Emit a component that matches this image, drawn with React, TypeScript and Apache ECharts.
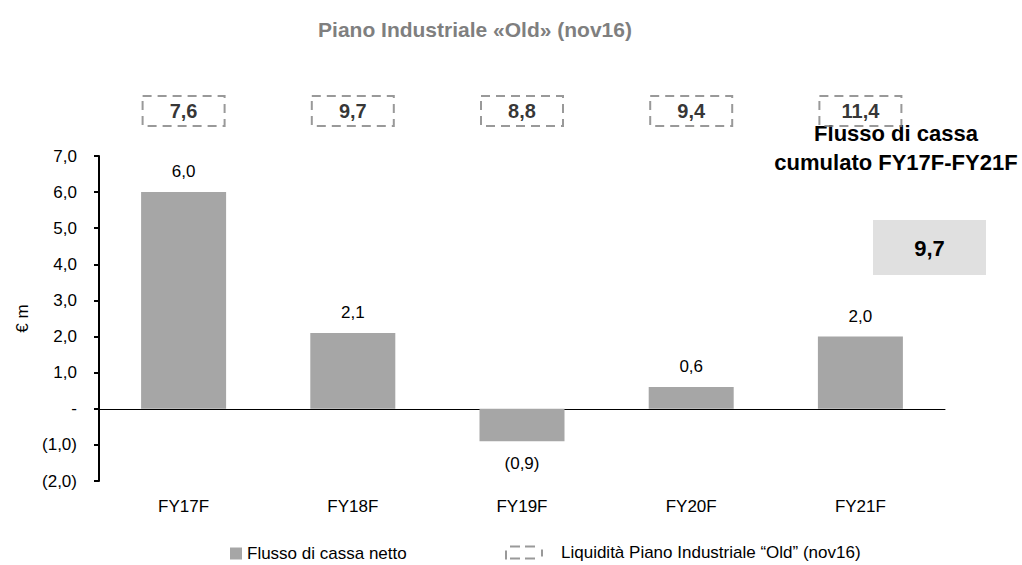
import React, { useEffect, useRef } from "react";
import * as echarts from "echarts";

const categories = ["FY17F", "FY18F", "FY19F", "FY20F", "FY21F"];
const cashFlow = [6.0, 2.1, -0.9, 0.6, 2.0];
const liquidity = [7.6, 9.7, 8.8, 9.4, 11.4];
const cumulative = 9.7;
const yTicksMin = -2;
const yTicksMax = 7;
const title = "Piano Industriale «Old» (nov16)";
const barName = "Flusso di cassa netto";
const liqName = "Liquidità Piano Industriale “Old” (nov16)";
const noteLines = ["Flusso di cassa", "cumulato FY17F-FY21F"];

const SANS = '"Liberation Sans", Arial, sans-serif';

const fmt = (v: number) => {
  if (Math.abs(v) < 1e-9) return "-";
  const s = Math.abs(v).toFixed(1).replace(".", ",");
  return v < 0 ? `(${s})` : s;
};

const dashIcon =
  "path://M0,5h2v9h-2z M5,0h10v2h-10z M20,0h10v2h-10z M5,12h10v2h-10z M20,12h10v2h-10z M36,4h2v7h-2z";

export default function App() {
  const ref = useRef<HTMLDivElement>(null);
  useEffect(() => {
    if (!ref.current) return;
    const chart = echarts.init(ref.current, undefined, { renderer: "svg" });
    chart.setOption({
      animation: false,
      backgroundColor: "#ffffff",
      textStyle: { fontFamily: SANS },
      title: {
        text: title,
        left: 470,
        top: 14,
        textAlign: "center",
        textStyle: { fontFamily: SANS, fontSize: 21, fontWeight: "bold", color: "#7f7f7f" },
      },
      grid: [
        { left: 99, right: 77, top: 156, height: 325 },
        { left: 99, right: 77, top: 95, height: 32 },
      ],
      xAxis: [
        {
          type: "category",
          gridIndex: 0,
          data: categories,
          axisLine: { show: true, onZero: true, lineStyle: { color: "#000", width: 1 } },
          axisTick: { show: false },
          axisLabel: { show: false },
        },
        {
          type: "category",
          gridIndex: 0,
          position: "bottom",
          data: categories,
          axisLine: { show: false, onZero: false },
          axisTick: { show: false },
          axisLabel: { color: "#000", fontSize: 17, fontFamily: SANS, margin: 17 },
        },
        {
          type: "category",
          gridIndex: 1,
          data: categories,
          show: false,
        },
      ],
      yAxis: [
        {
          type: "value",
          gridIndex: 0,
          min: yTicksMin,
          max: yTicksMax,
          interval: 1,
          name: "€ m",
          nameLocation: "middle",
          nameGap: 67,
          nameRotate: 90,
          nameTextStyle: { color: "#000", fontSize: 17, fontFamily: SANS },
          splitLine: { show: false },
          axisLine: { show: true, lineStyle: { color: "#000", width: 2 } },
          axisTick: { show: true, length: 5, lineStyle: { color: "#000", width: 2 } },
          axisLabel: { color: "#000", fontSize: 17, fontFamily: SANS, margin: 22, formatter: (v: number) => fmt(v) },
        },
        { type: "value", gridIndex: 1, min: -1, max: 1, show: false },
      ],
      legend: [
        {
          data: [{ name: barName, icon: "rect" }],
          left: 225,
          top: 540,
          itemWidth: 12,
          itemHeight: 12,
          itemGap: 5,
          textStyle: { color: "#000", fontSize: 17, fontFamily: SANS },
        },
        {
          data: [{ name: liqName, icon: dashIcon, itemStyle: { color: "#808080" } }],
          left: 500,
          top: 539,
          itemWidth: 40,
          itemHeight: 14,
          textStyle: { color: "#000", fontSize: 17, fontFamily: SANS, padding: [0, 0, 0, 12] },
        },
      ],
      series: [
        {
          name: barName,
          type: "bar",
          xAxisIndex: 0,
          yAxisIndex: 0,
          data: cashFlow.map((v) => (v < 0 ? { value: v, label: { position: "bottom", distance: 14 } } : v)),
          barWidth: 85,
          itemStyle: { color: "#a6a6a6" },
          label: {
            show: true,
            position: "top",
            distance: 12,
            color: "#000",
            fontSize: 17,
            fontFamily: SANS,
            formatter: (p: any) => fmt(p.value),
          },
        },
        {
          name: liqName,
          type: "scatter",
          xAxisIndex: 2,
          yAxisIndex: 1,
          data: liquidity.map(() => 0),
          symbolSize: 1,
          itemStyle: { color: "rgba(0,0,0,0)" },
          label: {
            show: true,
            position: "inside",
            formatter: (p: any) => fmt(liquidity[p.dataIndex]),
            color: "#000",
            fontSize: 20,
            fontWeight: "bold",
            fontFamily: SANS,
            width: 82,
            height: 30,
            lineHeight: 30,
            align: "center",
            verticalAlign: "middle",
            borderColor: "#808080",
            borderWidth: 2,
            borderType: [9, 6],
          },
        },
      ],
      graphic: [
        {
          type: "text",
          x: 896,
          y: 133,
          style: {
            text: noteLines[0],
            fill: "#000",
            font: `bold 22px ${SANS}`,
            align: "center",
            verticalAlign: "middle",
          },
        },
        {
          type: "text",
          x: 896,
          y: 162,
          style: {
            text: noteLines[1],
            fill: "#000",
            font: `bold 22px ${SANS}`,
            align: "center",
            verticalAlign: "middle",
          },
        },
        {
          type: "rect",
          shape: { x: 873, y: 220, width: 113, height: 55 },
          style: { fill: "#e0e0e0" },
        },
        {
          type: "text",
          x: 929.5,
          y: 248,
          style: {
            text: fmt(cumulative),
            fill: "#000",
            font: `bold 22px ${SANS}`,
            align: "center",
            verticalAlign: "middle",
          },
        },
      ],
    });
    return () => chart.dispose();
  }, []);
  return (
    <div
      ref={ref}
      style={{ position: "fixed", left: 0, top: 0, width: 1022, height: 565, background: "#fff" }}
    />
  );
}
